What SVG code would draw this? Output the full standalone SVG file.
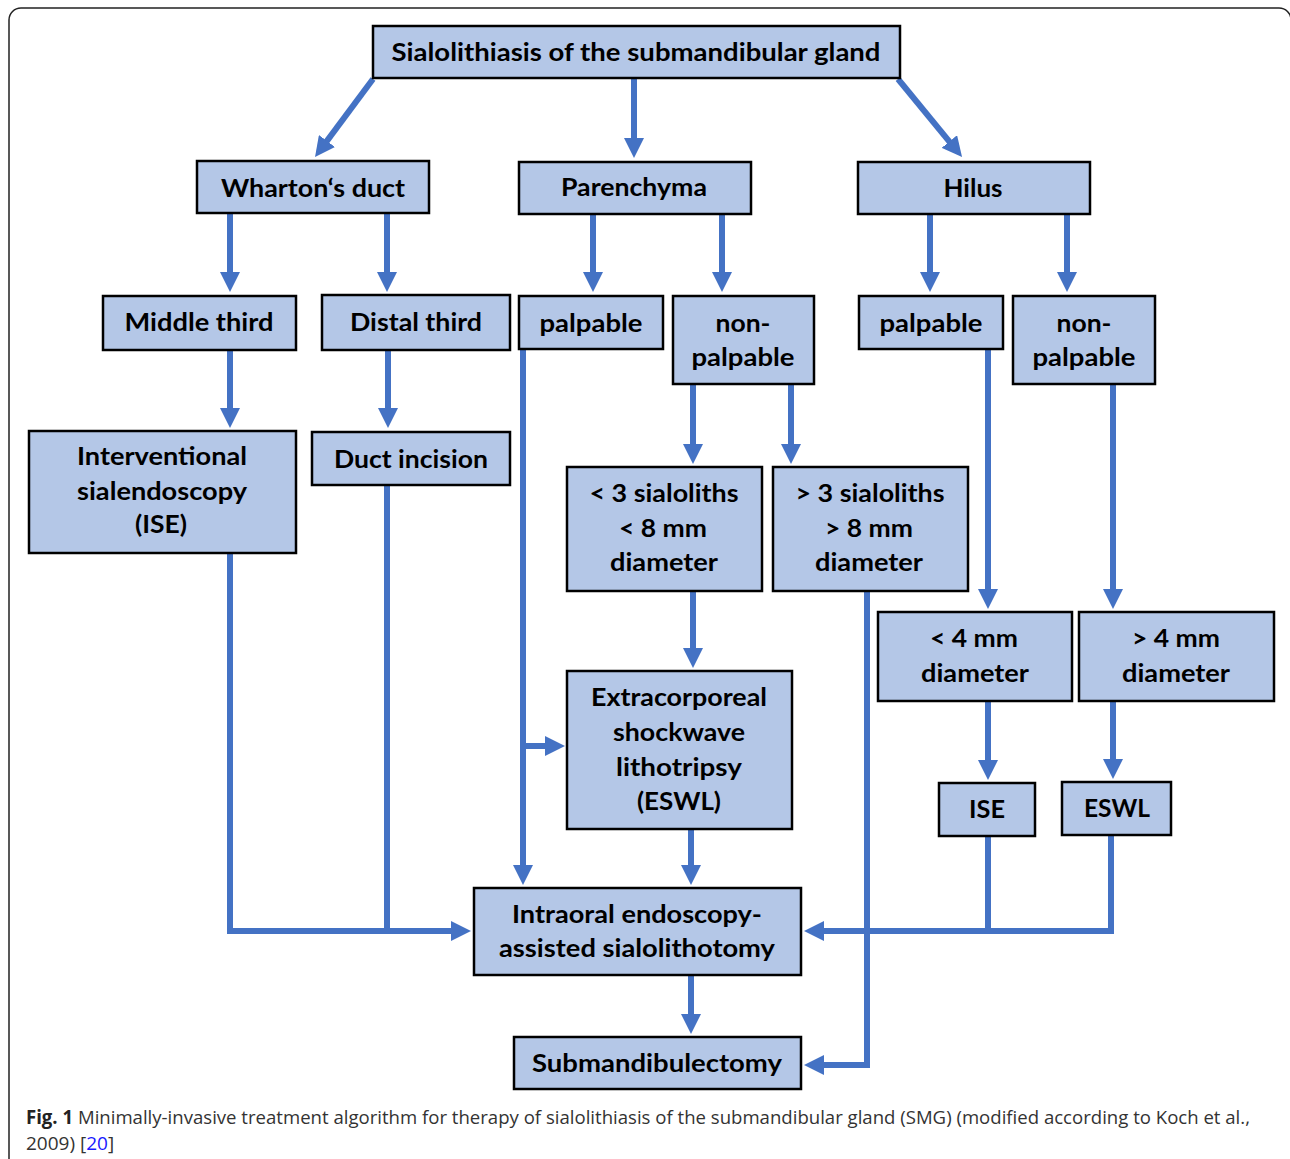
<svg xmlns="http://www.w3.org/2000/svg" width="1290" height="1159" viewBox="0 0 1290 1159">
<style>
.box{fill:#B4C7E7;stroke:#000;stroke-width:2.5}
.t{font-family:Lato,"Open Sans","Liberation Sans",sans-serif;font-weight:bold;font-size:24px;fill:#000;text-anchor:middle}
.c{fill:none;stroke:#4472C4;stroke-width:6}
.cap{font-family:"Open Sans","Liberation Sans",sans-serif;font-size:19px;fill:#333}
</style>
<defs>
<marker id="ah" markerUnits="userSpaceOnUse" markerWidth="20" markerHeight="20" refX="13" refY="10" orient="auto" viewBox="0 0 20 20">
<path d="M0,0 L20,10 L0,20 z" fill="#4472C4"/>
</marker>
</defs>
<rect x="9" y="8" width="1282" height="1200" rx="12" fill="#fff" stroke="#222" stroke-width="1.5"/>

<g id="connectors">
<path class="c" d="M373,79 L319.2,151.4" marker-end="url(#ah)"/>
<path class="c" d="M634,79 L634,151" marker-end="url(#ah)"/>
<path class="c" d="M898,79 L957.6,151.6" marker-end="url(#ah)"/>
<path class="c" d="M230,213 L230,285" marker-end="url(#ah)"/>
<path class="c" d="M387,213 L387,285" marker-end="url(#ah)"/>
<path class="c" d="M593,214 L593,285" marker-end="url(#ah)"/>
<path class="c" d="M722,214 L722,285" marker-end="url(#ah)"/>
<path class="c" d="M930,214 L930,285" marker-end="url(#ah)"/>
<path class="c" d="M1067,214 L1067,285" marker-end="url(#ah)"/>
<path class="c" d="M230,350 L230,421" marker-end="url(#ah)"/>
<path class="c" d="M388,350 L388,421" marker-end="url(#ah)"/>
<path class="c" d="M693,384 L693,457" marker-end="url(#ah)"/>
<path class="c" d="M791,384 L791,457" marker-end="url(#ah)"/>
<path class="c" d="M693,591 L693,661" marker-end="url(#ah)"/>
<path class="c" d="M523,349 L523,878" marker-end="url(#ah)"/>
<path class="c" d="M523,746 L558,746" marker-end="url(#ah)"/>
<path class="c" d="M691,829 L691,878" marker-end="url(#ah)"/>
<path class="c" d="M691,975 L691,1027" marker-end="url(#ah)"/>
<path class="c" d="M867,591 L867,1065 L811,1065" marker-end="url(#ah)"/>
<path class="c" d="M988,349 L988,602" marker-end="url(#ah)"/>
<path class="c" d="M1113,384 L1113,602" marker-end="url(#ah)"/>
<path class="c" d="M988,701 L988,773" marker-end="url(#ah)"/>
<path class="c" d="M1113,701 L1113,772" marker-end="url(#ah)"/>
<path class="c" d="M988,836 L988,931"/>
<path class="c" d="M1111,835 L1111,931 L811,931" marker-end="url(#ah)"/>
<path class="c" d="M230,553 L230,931 L464,931" marker-end="url(#ah)"/>
<path class="c" d="M387,485 L387,931"/>
</g>

<g id="n-top"><rect class="box" x="373" y="26" width="527" height="52"/><text class="t" x="636" y="61" textLength="489" lengthAdjust="spacingAndGlyphs">Sialolithiasis of the submandibular gland</text></g>
<g id="n-wharton"><rect class="box" x="197" y="161" width="232" height="52"/><text class="t" x="313" y="197" textLength="184" lengthAdjust="spacingAndGlyphs">Wharton‘s duct</text></g>
<g id="n-parenchyma"><rect class="box" x="519" y="162" width="232" height="52"/><text class="t" x="634" y="196" textLength="146" lengthAdjust="spacingAndGlyphs">Parenchyma</text></g>
<g id="n-hilus"><rect class="box" x="858" y="162" width="232" height="52"/><text class="t" x="973" y="197" textLength="59" lengthAdjust="spacingAndGlyphs">Hilus</text></g>
<g id="n-middle"><rect class="box" x="103" y="296" width="193" height="54"/><text class="t" x="199" y="331" textLength="149" lengthAdjust="spacingAndGlyphs">Middle third</text></g>
<g id="n-distal"><rect class="box" x="322" y="295" width="188" height="55"/><text class="t" x="416" y="331" textLength="132" lengthAdjust="spacingAndGlyphs">Distal third</text></g>
<g id="n-palp1"><rect class="box" x="519" y="296" width="144" height="53"/><text class="t" x="591" y="332" textLength="103" lengthAdjust="spacingAndGlyphs">palpable</text></g>
<g id="n-nonpalp1"><rect class="box" x="673" y="296" width="141" height="88"/><text class="t" x="743" y="332" textLength="55" lengthAdjust="spacingAndGlyphs">non-</text><text class="t" x="743" y="366" textLength="103" lengthAdjust="spacingAndGlyphs">palpable</text></g>
<g id="n-palp2"><rect class="box" x="859" y="296" width="144" height="53"/><text class="t" x="931" y="332" textLength="103" lengthAdjust="spacingAndGlyphs">palpable</text></g>
<g id="n-nonpalp2"><rect class="box" x="1013" y="296" width="142" height="88"/><text class="t" x="1084" y="332" textLength="55" lengthAdjust="spacingAndGlyphs">non-</text><text class="t" x="1084" y="366" textLength="103" lengthAdjust="spacingAndGlyphs">palpable</text></g>
<g id="n-ise-big"><rect class="box" x="29" y="431" width="267" height="122"/><text class="t" x="162" y="465" textLength="170" lengthAdjust="spacingAndGlyphs">Interventional</text><text class="t" x="162" y="500" textLength="170" lengthAdjust="spacingAndGlyphs">sialendoscopy</text><text class="t" x="161" y="533" textLength="52" lengthAdjust="spacingAndGlyphs">(ISE)</text></g>
<g id="n-duct"><rect class="box" x="312" y="432" width="198" height="53"/><text class="t" x="411" y="468" textLength="154" lengthAdjust="spacingAndGlyphs">Duct incision</text></g>
<g id="n-lt3"><rect class="box" x="567" y="467" width="195" height="124"/><text class="t" x="664" y="502" textLength="149" lengthAdjust="spacingAndGlyphs">&lt; 3 sialoliths</text><text class="t" x="663" y="537" textLength="88" lengthAdjust="spacingAndGlyphs">&lt; 8 mm</text><text class="t" x="664" y="571" textLength="108" lengthAdjust="spacingAndGlyphs">diameter</text></g>
<g id="n-gt3"><rect class="box" x="773" y="467" width="195" height="124"/><text class="t" x="870" y="502" textLength="149" lengthAdjust="spacingAndGlyphs">&gt; 3 sialoliths</text><text class="t" x="869" y="537" textLength="88" lengthAdjust="spacingAndGlyphs">&gt; 8 mm</text><text class="t" x="869" y="571" textLength="108" lengthAdjust="spacingAndGlyphs">diameter</text></g>
<g id="n-lt4"><rect class="box" x="878" y="612" width="194" height="89"/><text class="t" x="974" y="647" textLength="88" lengthAdjust="spacingAndGlyphs">&lt; 4 mm</text><text class="t" x="975" y="682" textLength="108" lengthAdjust="spacingAndGlyphs">diameter</text></g>
<g id="n-gt4"><rect class="box" x="1079" y="612" width="195" height="89"/><text class="t" x="1176" y="647" textLength="88" lengthAdjust="spacingAndGlyphs">&gt; 4 mm</text><text class="t" x="1176" y="682" textLength="108" lengthAdjust="spacingAndGlyphs">diameter</text></g>
<g id="n-eswl-big"><rect class="box" x="567" y="671" width="225" height="158"/><text class="t" x="679" y="706" textLength="176" lengthAdjust="spacingAndGlyphs">Extracorporeal</text><text class="t" x="679" y="741" textLength="132" lengthAdjust="spacingAndGlyphs">shockwave</text><text class="t" x="679" y="776" textLength="126" lengthAdjust="spacingAndGlyphs">lithotripsy</text><text class="t" x="679" y="810" textLength="84" lengthAdjust="spacingAndGlyphs">(ESWL)</text></g>
<g id="n-ise-small"><rect class="box" x="939" y="783" width="96" height="53"/><text class="t" x="987" y="818" textLength="36" lengthAdjust="spacingAndGlyphs">ISE</text></g>
<g id="n-eswl-small"><rect class="box" x="1062" y="782" width="109" height="53"/><text class="t" x="1117" y="817" textLength="66" lengthAdjust="spacingAndGlyphs">ESWL</text></g>
<g id="n-intraoral"><rect class="box" x="474" y="888" width="327" height="87"/><text class="t" x="637" y="923" textLength="250" lengthAdjust="spacingAndGlyphs">Intraoral endoscopy-</text><text class="t" x="637" y="957" textLength="276" lengthAdjust="spacingAndGlyphs">assisted sialolithotomy</text></g>
<g id="n-submand"><rect class="box" x="514" y="1037" width="287" height="52"/><text class="t" x="657" y="1072" textLength="250" lengthAdjust="spacingAndGlyphs">Submandibulectomy</text></g>

<text class="cap" x="26" y="1124" textLength="1224" lengthAdjust="spacingAndGlyphs"><tspan font-weight="bold" fill="#222">Fig. 1</tspan> Minimally-invasive treatment algorithm for therapy of sialolithiasis of the submandibular gland (SMG) (modified according to Koch et al.,</text>
<text class="cap" x="26" y="1150">2009) [<tspan fill="#1a1aff">20</tspan>]</text>
</svg>
